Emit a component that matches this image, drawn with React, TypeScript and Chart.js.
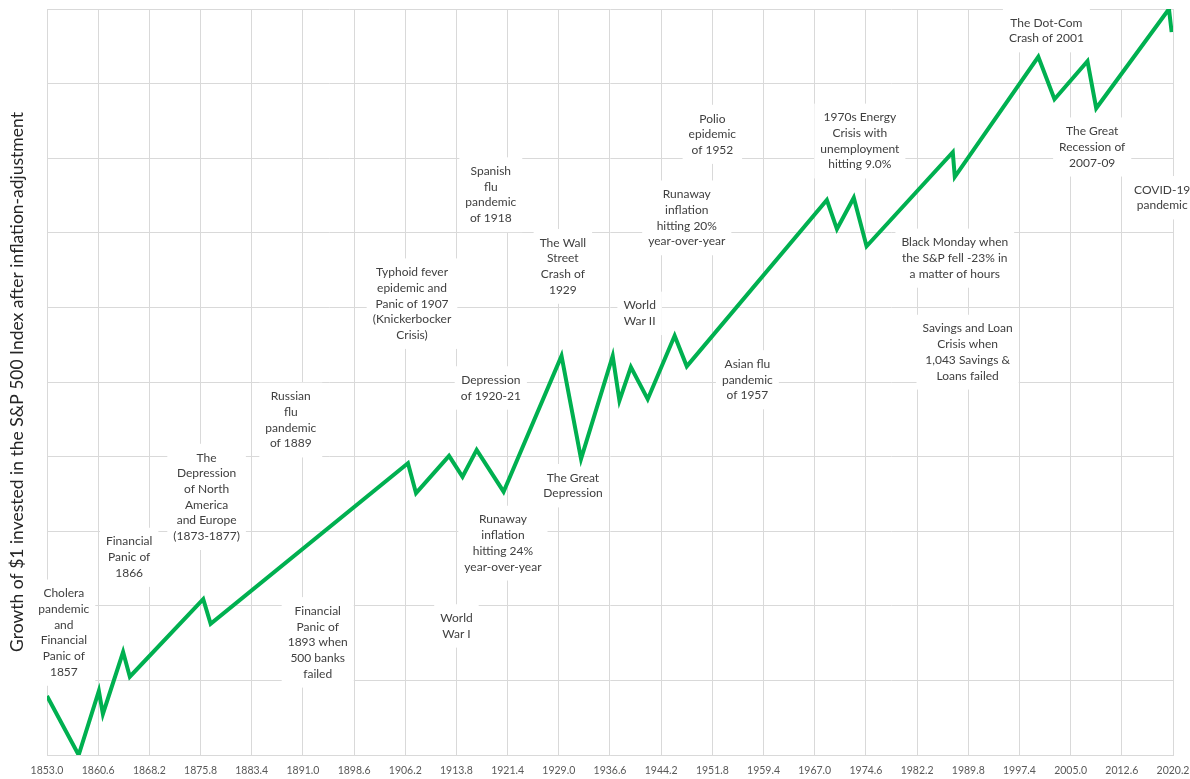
import { useEffect, useRef } from "react";
import { Chart, registerables } from "chart.js";

Chart.register(...registerables);

const years = [
  1853.0, 1857.7, 1860.7, 1861.3, 1864.3, 1865.3, 1876.2, 1877.3, 1906.6, 1907.8,
  1912.7, 1914.7, 1916.8, 1920.8, 1929.4, 1932.3, 1937.0, 1938.0, 1939.7, 1942.2,
  1946.2, 1948.0, 1968.8, 1970.3, 1972.8, 1974.7, 1987.5, 1987.8, 2000.2, 2002.6,
  2007.5, 2008.8, 2019.6, 2020.0,
];
const values = [
  0.79, 0.0, 0.86, 0.55, 1.38, 1.05, 2.09, 1.76, 3.91, 3.51,
  4.01, 3.73, 4.09, 3.53, 5.35, 3.97, 5.35, 4.75, 5.2, 4.77,
  5.62, 5.21, 7.44, 7.05, 7.47, 6.82, 8.08, 7.75, 9.36, 8.79,
  9.3, 8.67, 10.0, 9.69,
];

const xTicks = [
  1853.0, 1860.6, 1868.2, 1875.8, 1883.4, 1891.0, 1898.6, 1906.2, 1913.8, 1921.4,
  1929.0, 1936.6, 1944.2, 1951.8, 1959.4, 1967.0, 1974.6, 1982.2, 1989.8, 1997.4,
  2005.0, 2012.6, 2020.2,
];

const yAxisTitle = "Growth of $1 invested in the S&P 500 Index after inflation-adjustment";

// Event annotations
const eventLabels: string[][] = [
  ["Cholera", "pandemic", "and", "Financial", "Panic of", "1857"],
  ["Financial", "Panic of", "1866"],
  ["The", "Depression", "of North", "America", "and Europe", "(1873-1877)"],
  ["Russian", "flu", "pandemic", "of 1889"],
  ["Financial", "Panic of", "1893 when", "500 banks", "failed"],
  ["Typhoid fever", "epidemic and", "Panic of 1907", "(Knickerbocker", "Crisis)"],
  ["Spanish", "flu", "pandemic", "of 1918"],
  ["Depression", "of 1920-21"],
  ["The Wall", "Street", "Crash of", "1929"],
  ["World", "War II"],
  ["Runaway", "inflation", "hitting 20%", "year-over-year"],
  ["Polio", "epidemic", "of 1952"],
  ["Asian flu", "pandemic", "of 1957"],
  ["1970s Energy", "Crisis with", "unemployment", "hitting 9.0%"],
  ["Black Monday when", "the S&P fell -23% in", "a matter of hours"],
  ["Savings and Loan", "Crisis when", "1,043 Savings &", "Loans failed"],
  ["The Dot-Com", "Crash of 2001"],
  ["The Great", "Recession of", "2007-09"],
  ["COVID-19", "pandemic"],
  ["Runaway", "inflation", "hitting 24%", "year-over-year"],
  ["World", "War I"],
  ["The Great", "Depression"],
];
const eventYears = [
  1855.5, 1865.2, 1876.7, 1889.2, 1893.2, 1907.2, 1918.9, 1918.9, 1929.6, 1941.0,
  1948.0, 1951.8, 1957.0, 1973.7, 1987.8, 1989.7, 2001.4, 2008.2, 2018.6, 1920.7,
  1913.8, 1931.1,
];
const eventValues = [
  1.64, 2.65, 3.46, 4.49, 1.51, 6.05, 7.51, 4.92, 6.55, 5.92,
  7.2, 8.32, 5.03, 8.23, 6.66, 5.4, 9.71, 8.15, 7.47, 2.84,
  1.73, 3.61,
];

const eventPlugin = {
  id: "eventLabels",
  beforeDatasetsDraw(chart: any) {
    const ctx = chart.ctx;
    const xs = chart.scales.x;
    const ys = chart.scales.y;
    const lh = 15.7;
    ctx.save();
    ctx.font = "12px Lato";
    ctx.textAlign = "center";
    ctx.textBaseline = "middle";
    eventLabels.forEach((lines, i) => {
      const cx = xs.getPixelForValue(eventYears[i]);
      const cy = ys.getPixelForValue(eventValues[i]);
      const w = Math.max(...lines.map((l) => ctx.measureText(l).width));
      const h = lines.length * lh;
      ctx.fillStyle = "#ffffff";
      ctx.fillRect(cx - w / 2 - 6, cy - h / 2 - 6, w + 12, h + 12);
      ctx.fillStyle = "#404040";
      lines.forEach((l, j) => ctx.fillText(l, cx, cy - h / 2 + lh * (j + 0.5)));
    });
    ctx.restore();
  },
};

export default function App() {
  const ref = useRef<HTMLCanvasElement | null>(null);

  useEffect(() => {
    if (!ref.current) return;
    const chart = new Chart(ref.current, {
      type: "line",
      data: {
        datasets: [
          {
            data: years.map((y, i) => ({ x: y, y: values[i] })),
            borderColor: "#00b050",
            borderWidth: 4,
            pointRadius: 0,
            tension: 0,
            fill: false,
          },
        ],
      },
      options: {
        animation: false,
        responsive: true,
        maintainAspectRatio: false,
        layout: { padding: { top: 9, right: 17, left: 0, bottom: 0 } },
        plugins: { legend: { display: false }, tooltip: { enabled: false } },
        scales: {
          x: {
            type: "linear",
            min: 1853.0,
            max: 2020.2,
            afterBuildTicks: (s: any) => {
              s.ticks = xTicks.map((v) => ({ value: v }));
            },
            afterFit: (s: any) => {
              s.height = 24;
              s.paddingLeft = 0;
              s.paddingRight = 0;
            },
            ticks: {
              autoSkip: false,
              maxRotation: 0,
              padding: 9,
              color: "#595959",
              font: { family: "Lato", size: 10.5 },
              callback: (v: any) => Number(v).toFixed(1),
            },
            grid: { color: "#d9d9d9", lineWidth: 1, drawTicks: false },
            border: { color: "#d9d9d9" },
          },
          y: {
            min: 0,
            max: 10,
            afterFit: (s: any) => {
              s.width = 47;
            },
            ticks: { display: false, stepSize: 1 },
            grid: { color: "#d9d9d9", lineWidth: 1, drawTicks: false },
            border: { color: "#d9d9d9" },
            title: {
              display: true,
              text: yAxisTitle,
              color: "#262626",
              font: { family: "Lato", size: 17.5 },
              padding: { top: 7, bottom: 0 },
            },
          },
        },
      },
      plugins: [eventPlugin],
    });
    return () => chart.destroy();
  }, []);

  return (
    <div style={{ position: "absolute", left: 0, top: 0, width: 1190, height: 779, background: "#fff" }}>
      <canvas ref={ref} />
    </div>
  );
}
